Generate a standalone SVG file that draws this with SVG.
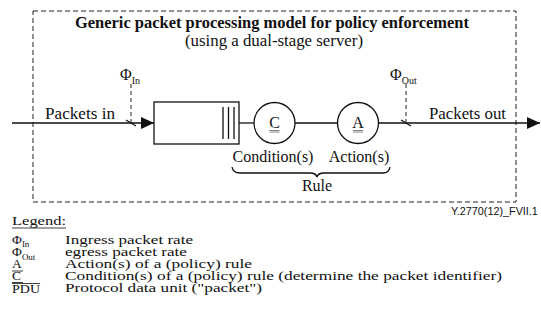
<svg xmlns="http://www.w3.org/2000/svg" width="541" height="323" viewBox="0 0 541 323">
<style>
text{font-family:"Liberation Serif","Times New Roman",serif;fill:#111;font-size:16px}
.b{font-weight:bold}
.m{text-anchor:middle}
.sub{font-size:10px}
.lg{font-size:13.5px}
.lsub{font-size:9px}
.sans{font-family:"Liberation Sans",Arial,sans-serif;font-size:10.8px}
.ln{stroke:#111;stroke-width:1.3;fill:none}
.dash{stroke:#222;stroke-width:1;fill:none;stroke-dasharray:5,3}
.dv{stroke:#222;stroke-width:1;fill:none;stroke-dasharray:4,3}
.node{fill:#fff;stroke:#111;stroke-width:1.3}
.ul{stroke:#111;stroke-width:0.8}
</style>
<defs>
<marker id="arr" viewBox="0 0 13 12" refX="13" refY="6" markerWidth="13" markerHeight="12" markerUnits="userSpaceOnUse" orient="auto">
<path d="M0,0 L13,6 L0,12 Z" fill="#111"/>
</marker>
</defs>
<rect x="33" y="11" width="483" height="191" class="dash"/>
<text class="b m" x="272" y="28" textLength="394" lengthAdjust="spacingAndGlyphs">Generic packet processing model for policy enforcement</text>
<text class="m" x="274" y="46" textLength="178" lengthAdjust="spacingAndGlyphs">(using a dual-stage server)</text>
<g id="connectors">
<line class="ln" x1="12" y1="123" x2="154" y2="123" marker-end="url(#arr)"/>
<line class="ln" x1="239" y1="123" x2="254" y2="123"/>
<line class="ln" x1="295" y1="123" x2="337" y2="123"/>
<line class="ln" x1="379" y1="123" x2="540" y2="123" marker-end="url(#arr)"/>
<line class="dv" x1="131" y1="84" x2="131" y2="123"/>
<line class="ln" x1="126" y1="120" x2="136" y2="126" stroke-width="1"/>
<line class="dv" x1="406" y1="84" x2="406" y2="123"/>
<line class="ln" x1="401" y1="120" x2="411" y2="126" stroke-width="1"/>
<path class="ln" d="M232,167 Q233,173 240,173 L310,173 Q316,173 317,177 Q318,173 324,173 L383,173 Q389,173 390,167"/>
</g>
<g id="phi-in">
<text x="120" y="80">Φ<tspan class="sub" dy="4">In</tspan></text>
</g>
<g id="phi-out">
<text x="390" y="80">Φ<tspan class="sub" dy="4">Out</tspan></text>
</g>
<text x="45" y="119" textLength="70" lengthAdjust="spacingAndGlyphs">Packets in</text>
<text x="429" y="119" textLength="77" lengthAdjust="spacingAndGlyphs">Packets out</text>
<g id="queue">
<rect class="node" x="154" y="102" width="85" height="42"/>
<line class="ln" x1="223" y1="107" x2="223" y2="139"/>
<line class="ln" x1="228.5" y1="107" x2="228.5" y2="139"/>
<line class="ln" x1="234" y1="107" x2="234" y2="139"/>
</g>
<g id="condition">
<circle class="node" cx="274.5" cy="123" r="20.5"/>
<text class="m" x="274.5" y="128">C</text>
<line stroke="#555" stroke-width="0.7" x1="269.5" y1="130.5" x2="279.5" y2="130.5"/>
<line stroke="#555" stroke-width="0.7" x1="269.5" y1="132" x2="279.5" y2="132"/>
<text class="m" x="273" y="162">Condition(s)</text>
</g>
<g id="action">
<circle class="node" cx="358" cy="123" r="20.5"/>
<text class="m" x="358" y="128">A</text>
<line stroke="#555" stroke-width="0.7" x1="353" y1="130.5" x2="363" y2="130.5"/>
<line stroke="#555" stroke-width="0.7" x1="353" y1="132" x2="363" y2="132"/>
<text class="m" x="359" y="162">Action(s)</text>
</g>
<text class="m" x="317" y="191">Rule</text>
<text class="sans" x="451" y="215">Y.2770(12)_FVII.1</text>
<g id="legend">
<text class="lg" x="12" y="225" textLength="54" lengthAdjust="spacingAndGlyphs">Legend:</text>
<line class="ul" x1="12" y1="228" x2="66" y2="228"/>
<text class="lg" x="12" y="244">Φ<tspan class="lsub" dy="3">In</tspan></text>
<text class="lg" x="65" y="244" textLength="128" lengthAdjust="spacingAndGlyphs">Ingress packet rate</text>
<text class="lg" x="12" y="256">Φ<tspan class="lsub" dy="4">Out</tspan></text>
<text class="lg" x="65" y="256" textLength="122" lengthAdjust="spacingAndGlyphs">egress packet rate</text>
<text class="lg" x="12" y="268">A</text>
<line class="ul" x1="12" y1="271" x2="23" y2="271"/>
<text class="lg" x="65" y="268" textLength="187" lengthAdjust="spacingAndGlyphs">Action(s) of a (policy) rule</text>
<text class="lg" x="12" y="280">C</text>
<line class="ul" x1="12" y1="282.5" x2="23" y2="282.5"/>
<text class="lg" x="65" y="280" textLength="437" lengthAdjust="spacingAndGlyphs">Condition(s) of a (policy) rule (determine the packet identifier)</text>
<line class="ul" x1="12" y1="283.5" x2="40" y2="283.5"/>
<text class="lg" x="12" y="293" textLength="28" lengthAdjust="spacingAndGlyphs">PDU</text>
<text class="lg" x="65" y="292" textLength="197" lengthAdjust="spacingAndGlyphs">Protocol data unit ("packet")</text>
</g>
</svg>
